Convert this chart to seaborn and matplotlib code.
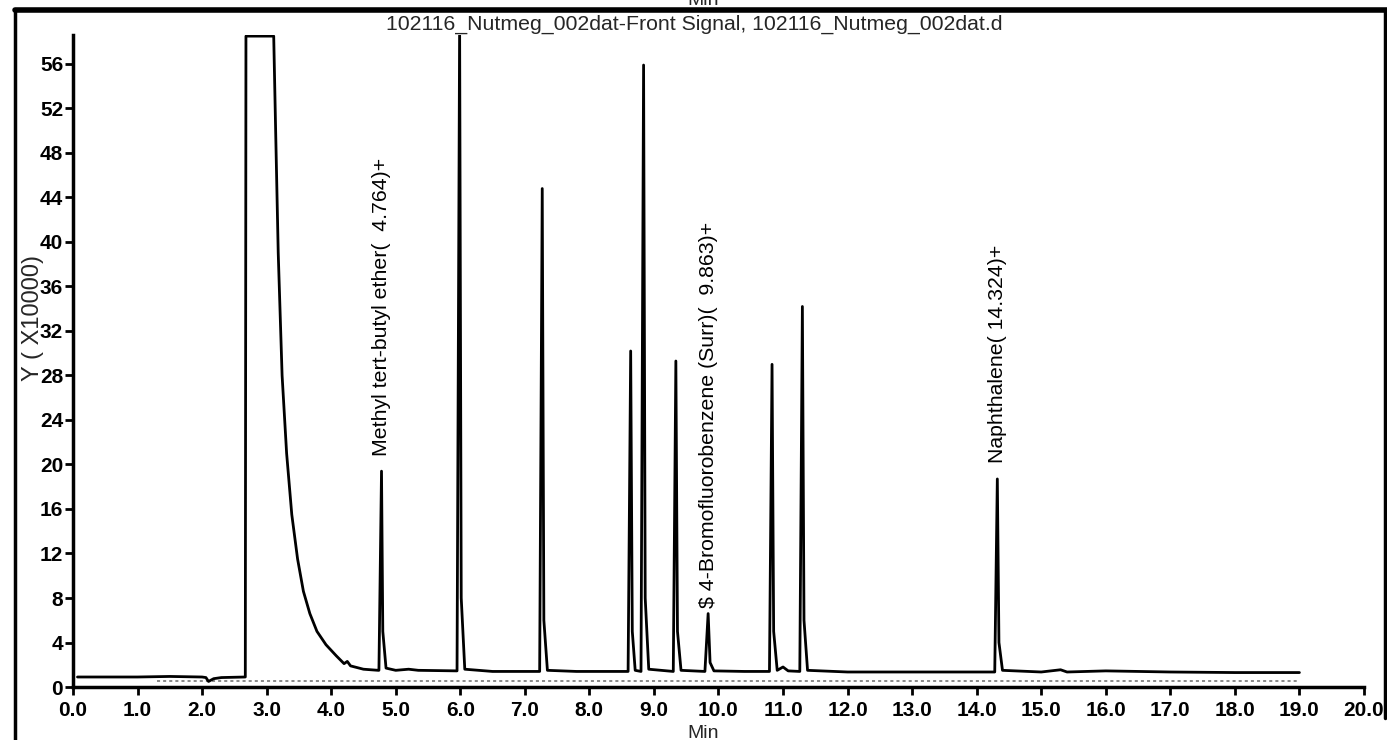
import matplotlib
matplotlib.use("Agg")
import matplotlib.pyplot as plt
import seaborn as sns
from matplotlib.lines import Line2D

# chromatogram trace (minutes, Y x10000)
# baseline before the solvent front, with the small dip near 2.1 min
pre_t = [0.07, 1.0, 1.5, 2.0, 2.06, 2.1, 2.18, 2.3, 2.67]
pre_y = [0.9, 0.9, 0.95, 0.9, 0.85, 0.5, 0.75, 0.85, 0.9]

# saturated solvent peak and its tail
solvent_t = [2.68, 3.11, 3.14, 3.18, 3.24, 3.31, 3.39, 3.48, 3.57, 3.67,
             3.78, 3.92, 4.08, 4.2, 4.25, 4.3, 4.5, 4.73]
solvent_y = [58.5, 58.5, 50, 39, 28, 21, 15.5, 11.5, 8.6, 6.6,
             5.0, 3.8, 2.8, 2.1, 2.3, 1.9, 1.6, 1.5]

# analyte peaks and the baseline between them
peaks_t = [4.74, 4.78, 4.80, 4.85, 5.0, 5.2, 5.35, 5.95,
           5.99, 6.015, 6.07, 6.5, 7.23,
           7.27, 7.295, 7.35, 7.8, 8.60,
           8.64, 8.665, 8.71, 8.80,
           8.84, 8.865, 8.92, 9.30,
           9.34, 9.365, 9.42, 9.79,
           9.84, 9.87, 9.93, 10.4, 10.79,
           10.83, 10.855, 10.91, 11.0, 11.08, 11.26,
           11.30, 11.325, 11.38, 12.0, 13.0, 14.28,
           14.32, 14.345, 14.40, 15.0, 15.3, 15.4, 16.0, 17.0, 18.0, 19.0]
peaks_y = [1.5, 19.4, 5, 1.7, 1.5, 1.6, 1.5, 1.45,
           59.5, 8, 1.6, 1.4, 1.4,
           44.8, 6, 1.5, 1.4, 1.4,
           30.2, 5, 1.5, 1.4,
           55.9, 8, 1.6, 1.4,
           29.3, 5, 1.5, 1.4,
           6.6, 2.2, 1.45, 1.4, 1.4,
           29.0, 5, 1.5, 1.8, 1.45, 1.4,
           34.2, 6, 1.5, 1.35, 1.35, 1.35,
           18.7, 4, 1.5, 1.35, 1.55, 1.35, 1.45, 1.35, 1.3, 1.3]

# integration marks drawn under the baseline
integration_t = [1.3, 19.0]
integration_y = [0.5, 0.5]

# labelled compounds
label_rt = [4.78, 9.84, 14.32]
label_top = [19.4, 6.6, 18.7]
label_text = ["Methyl tert-butyl ether(  4.764)+",
              "$ 4-Bromofluorobenzene (Surr)(  9.863)+",
              "Naphthalene( 14.324)+"]

x_ticks = [i * 1.0 for i in range(21)]
y_ticks = list(range(0, 57, 4))

sns.set_style("ticks")
plt.rcParams["font.family"] = ["Liberation Sans", "DejaVu Sans"]

fig = plt.figure(figsize=(13.87, 7.40), dpi=100)
ax = fig.add_axes([0.0526, 0.0716, 0.9308, 0.8811])

trace_t = pre_t + solvent_t + peaks_t
trace_y = pre_y + solvent_y + peaks_y
sns.lineplot(x=integration_t, y=integration_y, ax=ax, color="#6a6a6a",
             lw=1.1, linestyle=(0, (2, 2)), estimator=None, sort=False)
sns.lineplot(x=trace_t, y=trace_y, ax=ax, color="black", lw=2.0,
             estimator=None, sort=False)

# gap between peak top and label start (the surrogate label sits closer)
gaps = [1.4, 0.5, 1.4]
for rt, top, txt, gap in zip(label_rt, label_top, label_text, gaps):
    ax.text(rt, top + gap, txt, rotation=90, ha="center", va="bottom",
            fontsize=15.3, color="black")

ax.set_xlim(0, 20)
ax.set_ylim(0, 58.6)
ax.set_xticks(x_ticks)
ax.set_xticklabels([f"{v:.1f}" for v in x_ticks], fontsize=15, fontweight="bold")
ax.set_yticks(y_ticks)
ax.set_yticklabels([str(v) for v in y_ticks], fontsize=15, fontweight="bold")
ax.tick_params(axis="both", direction="out", length=6, width=2, pad=1, colors="black")
ax.tick_params(axis="x", pad=4)
sns.despine(ax=ax)
for side in ["left", "bottom"]:
    ax.spines[side].set_linewidth(2.5)
    ax.spines[side].set_color("black")
ax.set_xlabel("")
ax.set_ylabel("")

fig.text(0.5005, 0.9676, "102116_Nutmeg_002dat-Front Signal, 102116_Nutmeg_002dat.d",
         ha="center", va="center", fontsize=15.3)
fig.text(0.024, 0.57, "Y ( X10000)", rotation=90, ha="center", va="center", fontsize=17)
fig.text(0.507, 0.009, "Min", ha="center", va="center", fontsize=14)
fig.text(0.507, 0.999, "Min", ha="center", va="center", fontsize=14)

# scan frame lines around the printout
fig.add_artist(Line2D([0.0108, 1.0], [0.986, 0.986], transform=fig.transFigure,
                      color="black", lw=4))
fig.add_artist(Line2D([0.0108, 0.0108], [0.0, 0.986], transform=fig.transFigure,
                      color="black", lw=2.5))
fig.add_artist(Line2D([0.9985, 0.9985], [0.03, 0.986], transform=fig.transFigure,
                      color="black", lw=2.5))

fig.savefig("out.png", dpi=100)
